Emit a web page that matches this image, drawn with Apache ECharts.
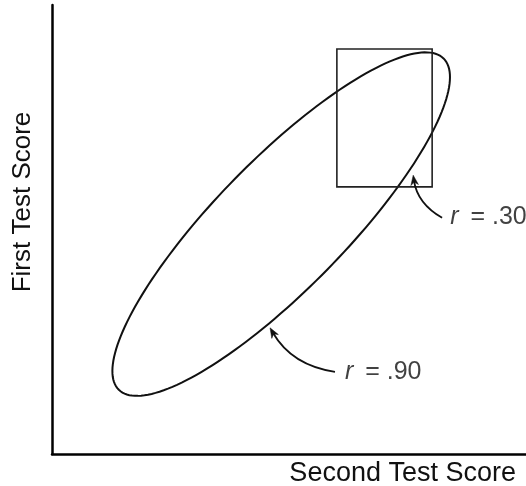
<!DOCTYPE html>
<html>
<head>
<meta charset="utf-8">
<script src="https://cdn.jsdelivr.net/npm/echarts@6/dist/echarts.min.js"></script>
<style>
  html, body { margin: 0; padding: 0; background: #fff; }
  #chart { width: 526px; height: 486px; }
</style>
</head>
<body>
<div id="chart"></div>
<script>
// scores on both axes run 0..100 (no ticks shown)
var xTitle = 'Second Test Score';
var yTitle = 'First Test Score';

// r = .90 ellipse: ends of its long and short axes
var majorEnds = [[14.1, 14.3], [82.6, 88.1]];
var minorEnds = [[38.5, 61.4], [58.1, 41.1]];

// r = .30 box (upper range of both tests): [x0, y0, x1, y1]
var boxCorners = [60.1, 59.5, 80.2, 90.2];

// correlation labels and where their arrows start / point
var corrValues = ['.30', '.90'];
var labelAt = [[84.0, 52.8], [61.8, 18.3]];
var arrowTail = [[82.3, 52.6], [59.7, 18.3]];
var arrowTip = [[76.2, 62.1], [46.0, 28.1]];

var font = "'Liberation Sans', Arial, Helvetica, sans-serif";
var ink = '#111';

var myChart = echarts.init(document.getElementById('chart'));

var arrowData = [];
for (var i = 0; i < arrowTail.length; i++) {
    arrowData.push(arrowTail[i].concat(arrowTip[i]));
}

var labelData = [];
for (var j = 0; j < corrValues.length; j++) {
    labelData.push({ value: labelAt[j], name: corrValues[j] });
}

var option = {
    animation: false,
    backgroundColor: '#fff',
    grid: {
        left: 52,
        right: 0,
        top: 5,
        bottom: 32,
        containLabel: false,
        outerBoundsMode: 'none'
    },
    xAxis: {
        type: 'value',
        min: 0,
        max: 100,
        name: xTitle,
        nameLocation: 'end',
        nameGap: -10,
        nameTextStyle: {
            fontFamily: font,
            fontSize: 27,
            color: ink,
            align: 'right',
            verticalAlign: 'top',
            padding: [6, 0, 0, 0]
        },
        axisLine: { show: true, lineStyle: { color: '#000', width: 2.5 } },
        axisTick: { show: false },
        axisLabel: { show: false },
        splitLine: { show: false }
    },
    yAxis: {
        type: 'value',
        min: 0,
        max: 100,
        name: yTitle,
        nameLocation: 'middle',
        nameGap: 16,
        nameTextStyle: {
            fontFamily: font,
            fontSize: 26,
            color: ink,
            padding: [0, 0, 0, 55]
        },
        axisLine: { show: true, lineStyle: { color: '#000', width: 2.5 } },
        axisTick: { show: false },
        axisLabel: { show: false },
        splitLine: { show: false }
    },
    series: [
        {
            // the r = .90 ellipse
            type: 'custom',
            silent: true,
            encode: { x: [0, 2, 4, 6], y: [1, 3, 5, 7] },
            data: [majorEnds[0].concat(majorEnds[1], minorEnds[0], minorEnds[1])],
            renderItem: function (params, api) {
                var a = api.coord([api.value(0), api.value(1)]);
                var b = api.coord([api.value(2), api.value(3)]);
                var d = api.coord([api.value(6), api.value(7)]);
                var cx = (a[0] + b[0]) / 2, cy = (a[1] + b[1]) / 2;
                var px = b[0] - cx, py = b[1] - cy;
                var qx = d[0] - cx, qy = d[1] - cy;
                var pts = [];
                for (var k = 0; k < 180; k++) {
                    var t = k / 180 * Math.PI * 2;
                    pts.push([
                        cx + px * Math.cos(t) + qx * Math.sin(t),
                        cy + py * Math.cos(t) + qy * Math.sin(t)
                    ]);
                }
                return {
                    type: 'polygon',
                    shape: { points: pts },
                    style: { fill: 'none', stroke: ink, lineWidth: 2 }
                };
            }
        },
        {
            // the r = .30 box
            type: 'custom',
            silent: true,
            encode: { x: [0, 2], y: [1, 3] },
            data: [boxCorners],
            renderItem: function (params, api) {
                var p0 = api.coord([api.value(0), api.value(3)]);
                var p1 = api.coord([api.value(2), api.value(1)]);
                return {
                    type: 'rect',
                    shape: { x: p0[0], y: p0[1], width: p1[0] - p0[0], height: p1[1] - p0[1] },
                    style: { fill: 'none', stroke: '#222', lineWidth: 1.6 }
                };
            }
        },
        {
            // curved arrows from label to shape
            type: 'custom',
            silent: true,
            encode: { x: [0, 2], y: [1, 3] },
            data: arrowData,
            renderItem: function (params, api) {
                var s = api.coord([api.value(0), api.value(1)]);
                var e = api.coord([api.value(2), api.value(3)]);
                var bend = 0.24;
                var cpx = (s[0] + e[0]) / 2 - (s[1] - e[1]) * bend;
                var cpy = (s[1] + e[1]) / 2 - (e[0] - s[0]) * bend;
                var ux = e[0] - cpx, uy = e[1] - cpy;
                var len = Math.sqrt(ux * ux + uy * uy);
                ux /= len; uy /= len;
                var nx = -uy, ny = ux;
                var head = [
                    [e[0], e[1]],
                    [e[0] - ux * 10 + nx * 3.8, e[1] - uy * 10 + ny * 3.8],
                    [e[0] - ux * 7, e[1] - uy * 7],
                    [e[0] - ux * 10 - nx * 3.8, e[1] - uy * 10 - ny * 3.8]
                ];
                return {
                    type: 'group',
                    children: [
                        {
                            type: 'bezierCurve',
                            shape: {
                                x1: s[0], y1: s[1],
                                x2: e[0] - ux * 6, y2: e[1] - uy * 6,
                                cpx1: cpx, cpy1: cpy
                            },
                            style: { fill: 'none', stroke: ink, lineWidth: 1.8 }
                        },
                        {
                            type: 'polygon',
                            shape: { points: head },
                            style: { fill: ink, stroke: ink, lineWidth: 0.5 }
                        }
                    ]
                };
            }
        },
        {
            // r labels
            type: 'scatter',
            symbolSize: 0,
            silent: true,
            data: labelData,
            label: {
                show: true,
                position: 'right',
                distance: 0,
                color: ink,
                formatter: function (p) {
                    return '{i|r}{n| = ' + p.name + '}';
                },
                rich: {
                    i: { fontStyle: 'italic', fontFamily: font, fontSize: 25, color: ink, padding: [0, 5, 0, 0] },
                    n: { fontFamily: font, fontSize: 25, color: ink }
                }
            }
        }
    ]
};

myChart.setOption(option);
</script>
</body>
</html>
